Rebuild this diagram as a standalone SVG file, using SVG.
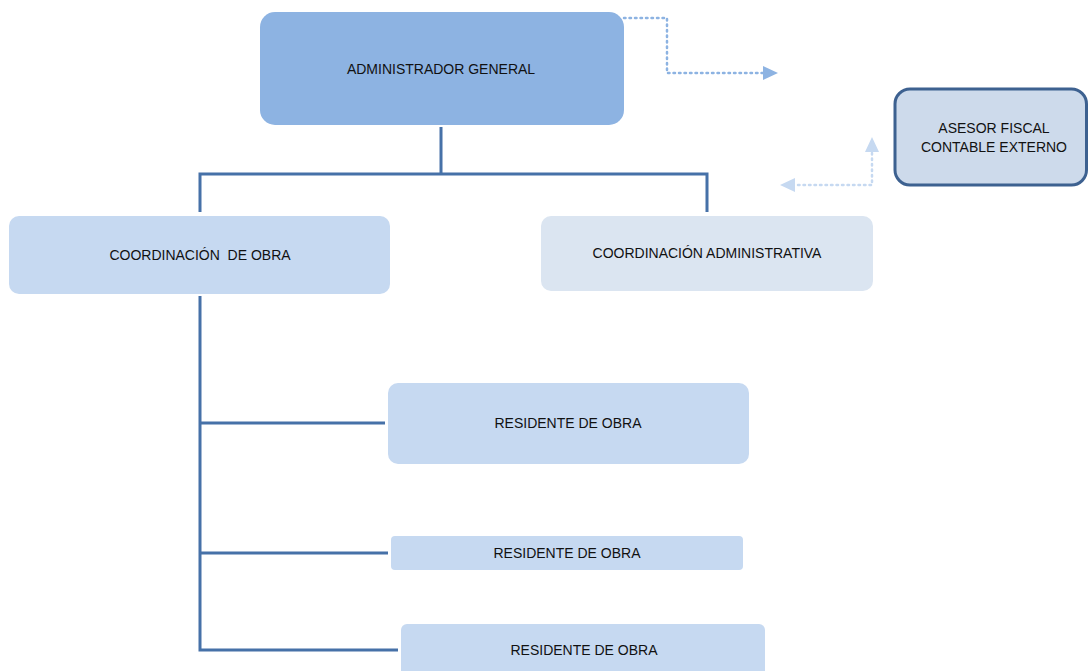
<svg xmlns="http://www.w3.org/2000/svg" width="1088" height="671" viewBox="0 0 1088 671">
  <defs>
    <style>
      .lbl { font-family: "Liberation Sans", Arial, sans-serif; font-size: 14px; fill: #111; text-anchor: middle; white-space: pre; }
      .tree { fill: none; stroke: #4671A8; stroke-width: 3; stroke-linejoin: miter; stroke-linecap: butt; }
      .dot1 { fill: none; stroke: #8DB3E2; stroke-width: 2.5; stroke-dasharray: 1.5 4; stroke-linecap: round; }
      .dot2 { fill: none; stroke: #C6D9F1; stroke-width: 2.5; stroke-dasharray: 1.5 4; stroke-linecap: round; }
      .mid { fill: #C6D9F1; }
    </style>
  </defs>
  <rect width="1088" height="671" fill="#ffffff"/>

  <g id="connectors">
    <!-- hierarchy lines -->
    <path class="tree" d="M441 127 V174 M200 212 V174 H707 V212"/>
    <path class="tree" d="M200 296 V650 H398 M200 423 H385 M200 553 H388"/>
    <!-- dotted link to the external advisor -->
    <path class="dot1" d="M624 18 H667 V73 H763"/>
    <polygon points="763,66 778,73 763,80" fill="#8DB3E2"/>
    <path class="dot2" d="M872 153 V185 H796"/>
    <polygon points="865,152 872,137 879,152" fill="#C6D9F1"/>
    <polygon points="795,178 780,185 795,192" fill="#C6D9F1"/>
  </g>

  <g id="admin-general">
    <rect x="260" y="12" width="364" height="113" rx="15" fill="#8DB3E2"/>
    <text class="lbl" x="441" y="74">ADMINISTRADOR GENERAL</text>
  </g>

  <g id="asesor-fiscal">
    <rect x="895" y="89" width="191.5" height="96" rx="15" fill="#CDDAEB" stroke="#3D6190" stroke-width="3"/>
    <text class="lbl" x="994" y="133">ASESOR FISCAL</text>
    <text class="lbl" x="994" y="152">CONTABLE EXTERNO</text>
  </g>

  <g id="coord-obra">
    <rect class="mid" x="9" y="216" width="381" height="78" rx="10"/>
    <text class="lbl" x="200" y="260">COORDINACIÓN  DE OBRA</text>
  </g>

  <g id="coord-admin">
    <rect x="541" y="216" width="332" height="75" rx="10" fill="#DBE5F1"/>
    <text class="lbl" x="707" y="258">COORDINACIÓN ADMINISTRATIVA</text>
  </g>

  <g id="residente-1">
    <rect class="mid" x="388" y="383" width="361" height="81" rx="10"/>
    <text class="lbl" x="568" y="428">RESIDENTE DE OBRA</text>
  </g>

  <g id="residente-2">
    <rect class="mid" x="391" y="536" width="352" height="34" rx="4"/>
    <text class="lbl" x="567" y="558">RESIDENTE DE OBRA</text>
  </g>

  <g id="residente-3">
    <rect class="mid" x="401" y="624" width="364" height="60" rx="6"/>
    <text class="lbl" x="584" y="655">RESIDENTE DE OBRA</text>
  </g>
</svg>
